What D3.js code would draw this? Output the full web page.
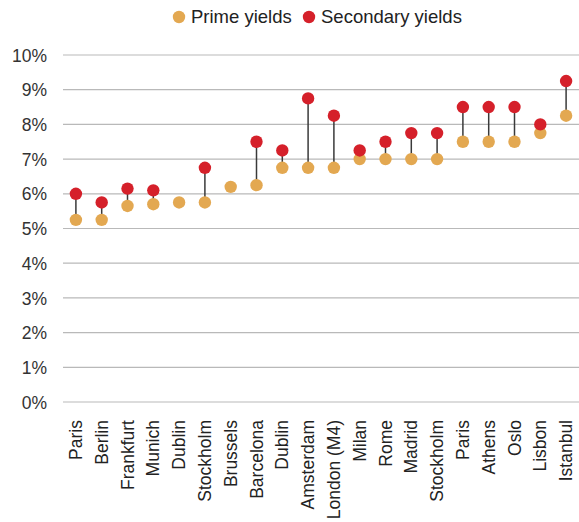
<!DOCTYPE html>
<html>
<head>
<meta charset="utf-8">
<script src="https://cdn.jsdelivr.net/npm/d3@7"></script>
<style>
  html, body { margin: 0; padding: 0; background: #fff; }
  svg { display: block; font-family: "Liberation Sans", Arial, sans-serif; }
</style>
</head>
<body>
<svg id="chart" width="579" height="522"></svg>
<script>
// Office yields by city: prime vs secondary (%)
const cities = ["Paris", "Berlin", "Frankfurt", "Munich", "Dublin", "Stockholm", "Brussels",
  "Barcelona", "Dublin", "Amsterdam", "London (M4)", "Milan", "Rome", "Madrid", "Stockholm",
  "Paris", "Athens", "Oslo", "Lisbon", "Istanbul"];
const primeYields = [5.25, 5.25, 5.65, 5.7, 5.75, 5.75, 6.2, 6.25, 6.75, 6.75, 6.75, 7.0, 7.0,
  7.0, 7.0, 7.5, 7.5, 7.5, 7.75, 8.25];
const secondaryYields = [6.0, 5.75, 6.15, 6.1, null, 6.75, null, 7.5, 7.25, 8.75, 8.25, 7.25,
  7.5, 7.75, 7.75, 8.5, 8.5, 8.5, 8.0, 9.25];
const yTicks = [0, 1, 2, 3, 4, 5, 6, 7, 8, 9, 10];
const seriesNames = ["Prime yields", "Secondary yields"];
const seriesColors = ["#e3a851", "#d5202a"];

const rows = cities.map((c, i) => ({ i, city: c, prime: primeYields[i], secondary: secondaryYields[i] }));

const svg = d3.select("#chart");
const plotLeft = 63, plotRight = 579, plotTop = 55, plotBottom = 402;

const x = d3.scaleBand().domain(d3.range(cities.length)).range([plotLeft, plotRight]);
const y = d3.scaleLinear().domain([0, 10]).range([plotBottom, plotTop]);

// gridlines
svg.append("g")
  .selectAll("line")
  .data(yTicks)
  .join("line")
  .attr("x1", plotLeft).attr("x2", plotRight)
  .attr("y1", d => y(d)).attr("y2", d => y(d))
  .attr("stroke", "#b9b9b9").attr("stroke-width", 1.2);

// y axis labels
const yAxis = d3.axisLeft(y).tickValues(yTicks).tickFormat(d => d + "%").tickSize(0).tickPadding(0);
const gy = svg.append("g").attr("transform", `translate(${plotLeft - 16},0)`).call(yAxis);
gy.select(".domain").remove();
gy.selectAll("text").attr("font-size", 17.5).attr("fill", "#333").attr("font-family", "Liberation Sans, Arial, sans-serif").attr("dy", "0.35em");

// x axis labels
const xAxis = d3.axisBottom(x).tickFormat(i => cities[i]).tickSize(0).tickPadding(0);
const gx = svg.append("g").attr("transform", `translate(0,${plotBottom + 18})`).call(xAxis);
gx.select(".domain").remove();
gx.selectAll("text")
  .attr("font-size", 17.5).attr("fill", "#222").attr("font-family", "Liberation Sans, Arial, sans-serif")
  .attr("transform", "rotate(-90)")
  .attr("text-anchor", "end")
  .attr("x", 0).attr("y", 0).attr("dx", 0).attr("dy", "0.35em");

const cx = i => x(i) + x.bandwidth() / 2;

// connectors
svg.append("g")
  .selectAll("line")
  .data(rows.filter(d => d.secondary != null))
  .join("line")
  .attr("x1", d => cx(d.i)).attr("x2", d => cx(d.i))
  .attr("y1", d => y(d.prime)).attr("y2", d => y(d.secondary))
  .attr("stroke", "#3a3a3a").attr("stroke-width", 1.5);

// prime dots
svg.append("g")
  .selectAll("circle")
  .data(rows)
  .join("circle")
  .attr("cx", d => cx(d.i)).attr("cy", d => y(d.prime)).attr("r", 6.2)
  .attr("fill", seriesColors[0]);

// secondary dots
svg.append("g")
  .selectAll("circle")
  .data(rows.filter(d => d.secondary != null))
  .join("circle")
  .attr("cx", d => cx(d.i)).attr("cy", d => y(d.secondary)).attr("r", 6.2)
  .attr("fill", seriesColors[1]);

// legend
const legendX = [179, 309];
const lg = svg.append("g");
seriesNames.forEach((name, k) => {
  lg.append("circle").attr("cx", legendX[k]).attr("cy", 17).attr("r", 6.2).attr("fill", seriesColors[k]);
  lg.append("text").attr("x", legendX[k] + 12).attr("y", 17).attr("dy", "0.35em")
    .attr("font-size", 18.5).attr("fill", "#222").text(name);
});
</script>
</body>
</html>
